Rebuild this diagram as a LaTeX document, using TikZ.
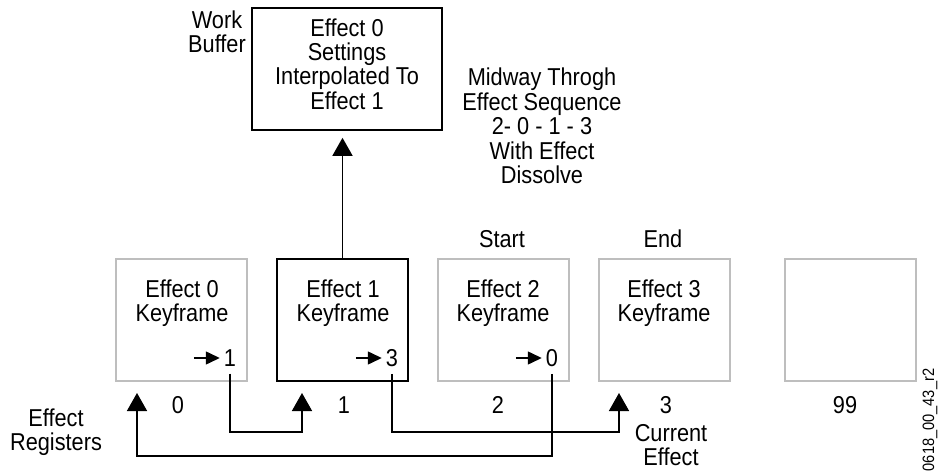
\documentclass[tikz,border=0pt]{standalone}
\usepackage{fontspec}
\setmainfont{Liberation Sans}[FakeStretch=0.89]
\usetikzlibrary{arrows.meta,calc}
\definecolor{boxgray}{RGB}{190,190,190}
\begin{document}
\begin{tikzpicture}[x=1bp,y=-1bp,
  lbl/.style={align=center,inner sep=0pt,font=\fontsize{24.5}{24.5}\selectfont},
  dig/.style={inner sep=0pt,font=\fontsize{24.5}{24.5}\selectfont},
  gbox/.style={draw=boxgray,line width=1.6bp,minimum width=131bp,minimum height=122bp,inner sep=0pt},
  bbox/.style={draw=black,line width=1.6bp,minimum width=131bp,minimum height=122bp,inner sep=0pt},
  conn/.style={line width=1.5bp,-{Triangle[width=20bp,length=18bp]}},
  ptr/.style={line width=1.5bp,-{Triangle[width=13bp,length=14bp]}},
]
\useasboundingbox (0,0) rectangle (939,474);
% register boxes
\node[gbox] (b0) at (181.5,320) {};
\node[bbox] (b1) at (342.5,320) {};
\node[gbox] (b2) at (503.5,320) {};
\node[gbox] (b3) at (664.5,320) {};
\node[gbox] (b99) at (850.5,320) {};
% work buffer box
\node[bbox,minimum width=190bp] (top) at (347,69) {};
\node[lbl] (tt) at (347,64) {Effect 0\\Settings\\Interpolated To\\Effect 1};
\node[lbl] (wb) at (217,32) {Work\\Buffer};
\node[lbl] (mid) at (542,126) {Midway Throgh\\Effect Sequence\\2- 0 - 1 - 3\\With Effect\\Dissolve};
\node[lbl] (st) at (502,239) {Start};
\node[lbl] (en) at (663,239) {End};
% box texts
\node[lbl] (k0) at (182,303) {Effect 0\\Keyframe};
\node[lbl] (k1) at (343,303) {Effect 1\\Keyframe};
\node[lbl] (k2) at (503,303) {Effect 2\\Keyframe};
\node[lbl] (k3) at (664,303) {Effect 3\\Keyframe};
% pointer digits
\node[dig] (d0) at (230,358) {1};
\node[dig] (d1) at (392,358) {3};
\node[dig] (d2) at (552,358) {0};
\foreach \d in {d0,d1,d2}{
  \draw[ptr] ($(\d.west)+(-30,0)$) -- ($(\d.west)+(-4,0)$);
}
% register numbers
\node[dig] (n0) at (178,405) {0};
\node[dig] (n1) at (344,405) {1};
\node[dig] (n2) at (498,405) {2};
\node[dig] (n3) at (666,405) {3};
\node[dig] (n99) at (845,405) {99};
\node[lbl] (cur) at (671,445) {Current\\Effect};
\node[lbl] (reg) at (56,432) {Effect\\Registers};
\node[inner sep=0pt,rotate=90,font=\fontsize{16.5}{16.5}\selectfont] (code) at (930,420) {0618\_00\_43\_r2};
% connectors
\coordinate (h1) at (0,432);
\coordinate (h2) at (0,456);
\coordinate (a0) at (137,393);
\coordinate (a1) at (302,393);
\coordinate (a3) at (619,393);
\draw[conn,shorten >=7bp] (b1.north) -- (b1.north |- top.south);
\draw[conn] ($(d0.south)+(0,7)$) |- (a1 |- h1) -- (a1);
\draw[conn] ($(d1.south)+(0,7)$) |- (a3 |- h1) -- (a3);
\draw[conn] ($(d2.south)+(0,7)$) |- (a0 |- h2) -- (a0);
\end{tikzpicture}
\end{document}
